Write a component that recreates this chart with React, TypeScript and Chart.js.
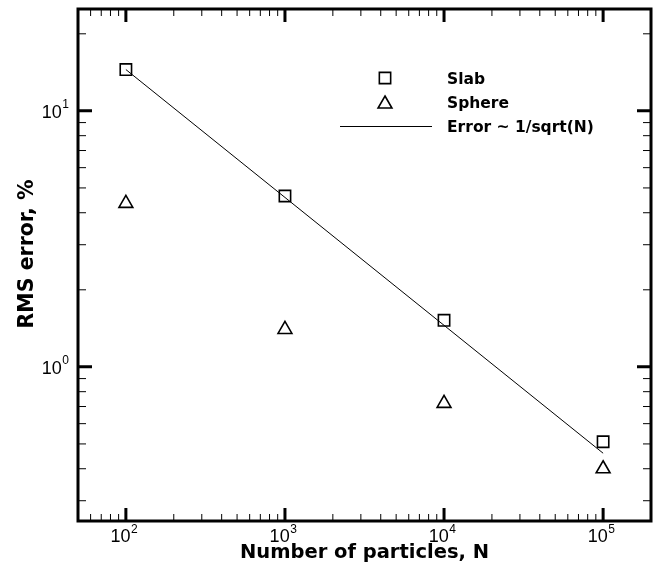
import React, { useEffect, useRef } from 'react';
import { Chart, registerables } from 'chart.js';

Chart.register(...registerables);

// ---- data ----
const particleCounts = [100, 1000, 10000, 100000];
const slabError = [14.5, 4.65, 1.52, 0.51];
const sphereError = [4.35, 1.4, 0.72, 0.4];
const fitCounts = [100, 100000];
const fitError = [14.5, 0.46];

const xMajorTicks = [100, 1000, 10000, 100000];
const yMajorTicks = [1, 10];
const xRange = [50, 200000];
const yRange = [0.25, 25];

const legendLabels = ['Slab', 'Sphere', 'Error ~ 1/sqrt(N)'];
const xTitle = 'Number of particles, N';
const yTitle = 'RMS error, %';

function minorTicks(min: number, max: number): number[] {
  const out: number[] = [];
  const d0 = Math.floor(Math.log10(min));
  const d1 = Math.ceil(Math.log10(max));
  for (let d = d0; d <= d1; d++) {
    for (let m = 2; m <= 9; m++) {
      const v = m * Math.pow(10, d);
      if (v > min * 1.0001 && v < max * 0.9999) out.push(v);
    }
  }
  return out;
}

const SQRT1_2 = Math.SQRT1_2;

function drawSquare(ctx: CanvasRenderingContext2D, x: number, y: number, r: number) {
  const s = SQRT1_2 * r;
  ctx.beginPath();
  ctx.rect(x - s, y - s, 2 * s, 2 * s);
  ctx.stroke();
}

function drawTriangle(ctx: CanvasRenderingContext2D, x: number, y: number, r: number) {
  ctx.beginPath();
  let rad = 0;
  ctx.moveTo(x + Math.sin(rad) * r, y - Math.cos(rad) * r);
  rad += (2 * Math.PI) / 3;
  ctx.lineTo(x + Math.sin(rad) * r, y - Math.cos(rad) * r);
  rad += (2 * Math.PI) / 3;
  ctx.lineTo(x + Math.sin(rad) * r, y - Math.cos(rad) * r);
  ctx.closePath();
  ctx.stroke();
}

const axesPlugin = {
  id: 'tecplotAxes',
  afterDraw(chart: any) {
    const { ctx, chartArea: a, scales } = chart;
    const xs = scales.x;
    const ys = scales.y;
    ctx.save();
    ctx.strokeStyle = '#000';
    ctx.fillStyle = '#000';
    ctx.lineCap = 'butt';

    const xTick = (v: number, len: number, w: number) => {
      const px = xs.getPixelForValue(v);
      ctx.lineWidth = w;
      ctx.beginPath();
      ctx.moveTo(px, a.bottom);
      ctx.lineTo(px, a.bottom - len);
      ctx.moveTo(px, a.top);
      ctx.lineTo(px, a.top + len);
      ctx.stroke();
    };
    const yTick = (v: number, len: number, w: number) => {
      const py = ys.getPixelForValue(v);
      ctx.lineWidth = w;
      ctx.beginPath();
      ctx.moveTo(a.left, py);
      ctx.lineTo(a.left + len, py);
      ctx.moveTo(a.right, py);
      ctx.lineTo(a.right - len, py);
      ctx.stroke();
    };

    minorTicks(xRange[0], xRange[1]).forEach((v) => xTick(v, 7, 1));
    xMajorTicks.forEach((v) => xTick(v, 13, 3));
    minorTicks(yRange[0], yRange[1]).forEach((v) => yTick(v, 8, 1));
    yMajorTicks.forEach((v) => yTick(v, 14, 3));

    // frame
    ctx.lineWidth = 3;
    ctx.strokeRect(a.left, a.top, a.right - a.left, a.bottom - a.top);

    // tick labels
    const baseFont = '18px "Liberation Sans", Arial, sans-serif';
    const expFont = '12px "Liberation Sans", Arial, sans-serif';
    ctx.textBaseline = 'alphabetic';
    ctx.textAlign = 'left';
    xMajorTicks.forEach((v) => {
      const px = xs.getPixelForValue(v);
      const exp = String(Math.round(Math.log10(v)));
      ctx.font = baseFont;
      const w1 = ctx.measureText('10').width;
      ctx.font = expFont;
      const w2 = ctx.measureText(exp).width;
      const start = px - (w1 + w2) / 2 - 2;
      ctx.font = baseFont;
      ctx.fillText('10', start, a.bottom + 21);
      ctx.font = expFont;
      ctx.fillText(exp, start + w1 + 0.5, a.bottom + 12);
    });
    yMajorTicks.forEach((v) => {
      const py = ys.getPixelForValue(v);
      const exp = String(Math.round(Math.log10(v)));
      ctx.font = expFont;
      const w2 = ctx.measureText(exp).width;
      const right = a.left - 9;
      ctx.fillText(exp, right - w2, py - 3);
      ctx.font = baseFont;
      const w1 = ctx.measureText('10').width;
      ctx.fillText('10', right - w2 - 0.5 - w1, py + 7);
    });

    // axis titles
    ctx.font = 'bold 19.5px "DejaVu Sans", sans-serif';
    ctx.textAlign = 'center';
    ctx.fillText(xTitle, (a.left + a.right) / 2, a.bottom + 37);
    ctx.save();
    ctx.font = 'bold 20.5px "DejaVu Sans", sans-serif';
    ctx.translate(33, (a.top + a.bottom) / 2 - 11);
    ctx.rotate(-Math.PI / 2);
    ctx.fillText(yTitle, 0, 0);
    ctx.restore();

    // legend
    const lx = 385;
    const textX = 447;
    const rows = [78, 102, 126];
    ctx.lineWidth = 1.6;
    drawSquare(ctx, lx, rows[0], 8);
    drawTriangle(ctx, lx, rows[1] + 2, 8);
    ctx.lineWidth = 1;
    ctx.beginPath();
    ctx.moveTo(340, rows[2] + 0.5);
    ctx.lineTo(432, rows[2] + 0.5);
    ctx.stroke();
    ctx.font = 'bold 15.5px "DejaVu Sans", sans-serif';
    ctx.textAlign = 'left';
    ctx.textBaseline = 'alphabetic';
    legendLabels.forEach((t, i) => {
      ctx.fillText(t, textX, rows[i] + 5.6);
    });

    ctx.restore();
  },
};

export default function App() {
  const ref = useRef<HTMLCanvasElement | null>(null);

  useEffect(() => {
    document.body.style.margin = '0';
    const canvas = ref.current;
    if (!canvas) return;
    const chart = new Chart(canvas, {
      type: 'scatter',
      data: {
        datasets: [
          {
            label: legendLabels[2],
            data: fitCounts.map((x, i) => ({ x, y: fitError[i] })),
            showLine: true,
            borderColor: '#000',
            borderWidth: 1,
            pointRadius: 0,
            order: 3,
          },
          {
            label: legendLabels[0],
            data: particleCounts.map((x, i) => ({ x, y: slabError[i] })),
            pointStyle: 'rect',
            pointRadius: 8,
            borderColor: '#000',
            backgroundColor: 'rgba(0,0,0,0)',
            borderWidth: 1.6,
            order: 1,
          },
          {
            label: legendLabels[1],
            data: particleCounts.map((x, i) => ({ x, y: sphereError[i] })),
            pointStyle: 'triangle',
            pointRadius: 8,
            borderColor: '#000',
            backgroundColor: 'rgba(0,0,0,0)',
            borderWidth: 1.6,
            order: 2,
          },
        ],
      },
      options: {
        responsive: false,
        animation: false,
        events: [],
        layout: { autoPadding: false, padding: { left: 78, top: 9, right: 2, bottom: 52 } },
        plugins: {
          legend: { display: false },
          tooltip: { enabled: false },
        },
        scales: {
          x: { type: 'logarithmic', min: xRange[0], max: xRange[1], display: false },
          y: { type: 'logarithmic', min: yRange[0], max: yRange[1], display: false },
        },
      },
      plugins: [axesPlugin],
    });
    return () => chart.destroy();
  }, []);

  return (
    <div style={{ width: 653, height: 573, background: '#fff' }}>
      <canvas ref={ref} width={653} height={573} />
    </div>
  );
}
